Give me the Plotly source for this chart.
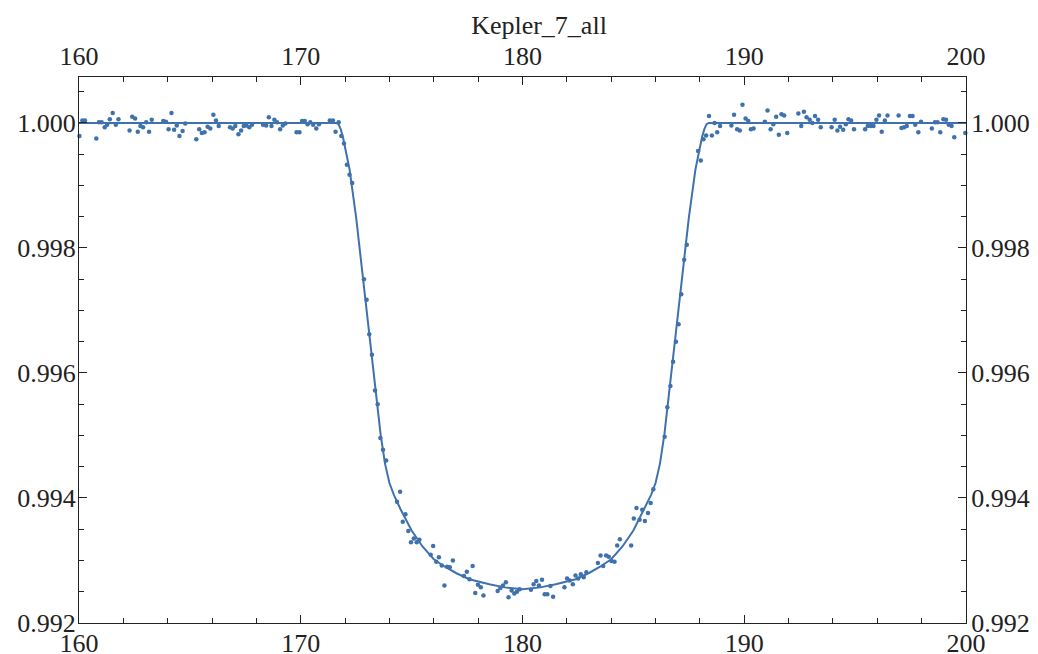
import plotly.graph_objects as go

# Observed light curve (time, relative flux)
obs_time = [
    159.90, 160.02, 160.15, 160.27,
    160.78, 160.90, 161.02, 161.16, 161.27, 161.39, 161.52, 161.66, 161.78,
    162.28, 162.40, 162.53, 162.65, 162.77, 162.89, 163.03, 163.16, 163.28,
    163.80, 163.92, 164.04, 164.17, 164.29, 164.41, 164.53, 164.67, 164.79,
    165.29, 165.42, 165.54, 165.66, 165.80, 165.92, 166.06, 166.18, 166.30,
    166.81, 166.93, 167.05, 167.19, 167.31, 167.43, 167.55, 167.68, 167.80,
    168.30, 168.44, 168.56, 168.68, 168.81, 168.93, 169.07, 169.19, 169.31,
    169.81, 169.94, 170.06, 170.18, 170.31, 170.43, 170.56, 170.70, 170.82,
    171.31, 171.45, 171.57, 171.71, 171.83, 171.95, 172.08, 172.20, 172.32,
    172.85, 172.97, 173.09, 173.21, 173.35, 173.47, 173.59, 173.71, 173.85,
    174.34, 174.48, 174.60, 174.72, 174.85, 174.97, 175.10, 175.23, 175.35,
    175.86, 175.97, 176.11, 176.23, 176.36, 176.48, 176.60, 176.72, 176.86,
    177.36, 177.49, 177.61, 177.75, 177.87, 177.99, 178.12, 178.24,
    178.88, 179.00, 179.12, 179.25, 179.37, 179.51, 179.63, 179.75, 179.87,
    180.38, 180.50, 180.62, 180.74, 180.88, 181.00, 181.12, 181.26, 181.38,
    181.89, 182.01, 182.13, 182.27, 182.39, 182.51, 182.63, 182.76, 182.88,
    183.40, 183.52, 183.64, 183.77, 183.89, 184.01, 184.15, 184.27, 184.39,
    184.90, 185.02, 185.14, 185.28, 185.40, 185.52, 185.66, 185.78, 185.90,
    186.41, 186.53, 186.67, 186.79, 186.92, 187.04, 187.16, 187.29, 187.41,
    187.92, 188.04, 188.16, 188.28, 188.41, 188.54, 188.66, 188.78, 188.91,
    189.42, 189.54, 189.68, 189.80, 189.92, 190.06, 190.18, 190.30, 190.42,
    190.93, 191.05, 191.19, 191.31, 191.44, 191.56, 191.68, 191.80, 191.94,
    192.44, 192.57, 192.69, 192.81, 192.95, 193.07, 193.19, 193.33, 193.45,
    193.94, 194.08, 194.20, 194.32, 194.46, 194.58, 194.70, 194.82, 194.95,
    195.45, 195.57, 195.71, 195.83, 195.96, 196.08, 196.20, 196.34, 196.46,
    196.96, 197.09, 197.21, 197.33, 197.47, 197.59, 197.71, 197.85, 197.97,
    198.46, 198.60, 198.72, 198.84, 198.98, 199.10, 199.22, 199.35, 199.47,
    199.97, 200.11,
]
obs_flux = [
    0.99983, 0.99979, 1.00004, 1.00004,
    0.99975, 1.00001, 1.00001, 0.99993, 0.99997, 1.00006, 1.00016, 0.99997, 1.00006,
    0.99988, 1.00010, 1.00007, 0.99986, 0.99995, 0.99993, 1.00001, 0.99986, 1.00005,
    1.00003, 1.00002, 0.99990, 1.00016, 0.99989, 0.99996, 0.99979, 0.99987, 0.99999,
    0.99974, 0.99990, 0.99984, 0.99985, 0.99994, 0.99991, 1.00013, 1.00004, 0.99995,
    0.99993, 0.99991, 0.99995, 0.99982, 0.99988, 0.99995, 0.99996, 0.99993, 0.99997,
    0.99997, 0.99996, 1.00009, 0.99995, 1.00005, 1.00001, 0.99990, 0.99996, 0.99999,
    0.99985, 0.99985, 1.00003, 1.00003, 0.99998, 1.00001, 0.99997, 0.99991, 0.99998,
    1.00004, 1.00004, 0.99986, 1.00001, 0.99979, 0.99967, 0.99933, 0.99917, 0.99904,
    0.99750, 0.99717, 0.99662, 0.99629, 0.99572, 0.99550, 0.99496, 0.99477, 0.99460,
    0.99394, 0.99410, 0.99362, 0.99374, 0.99347, 0.99329, 0.99335, 0.99329, 0.99333,
    0.99309, 0.99323, 0.99298, 0.99305, 0.99292, 0.99260, 0.99290, 0.99289, 0.99300,
    0.99275, 0.99282, 0.99270, 0.99291, 0.99248, 0.99261, 0.99257, 0.99244,
    0.99251, 0.99256, 0.99260, 0.99265, 0.99241, 0.99252, 0.99247, 0.99250, 0.99254,
    0.99253, 0.99262, 0.99267, 0.99260, 0.99269, 0.99246, 0.99246, 0.99259, 0.99242,
    0.99257, 0.99271, 0.99268, 0.99262, 0.99276, 0.99271, 0.99278, 0.99273, 0.99281,
    0.99296, 0.99308, 0.99291, 0.99308, 0.99306, 0.99299, 0.99298, 0.99324, 0.99334,
    0.99324, 0.99367, 0.99384, 0.99365, 0.99381, 0.99363, 0.99376, 0.99392, 0.99414,
    0.99498, 0.99545, 0.99579, 0.99618, 0.99650, 0.99678, 0.99726, 0.99781, 0.99805,
    0.99955, 0.99940, 0.99974, 0.99980, 1.00011, 0.99980, 1.00000, 0.99985, 0.99995,
    0.99996, 1.00013, 0.99990, 0.99988, 1.00029, 1.00007, 1.00003, 0.99990, 0.99991,
    1.00002, 1.00020, 0.99990, 0.99998, 1.00010, 0.99981, 1.00014, 1.00012, 0.99984,
    1.00015, 0.99995, 1.00018, 1.00009, 1.00005, 1.00000, 1.00011, 1.00005, 0.99993,
    0.99993, 1.00005, 0.99988, 0.99994, 0.99989, 0.99998, 1.00006, 1.00004, 0.99990,
    0.99990, 0.99995, 0.99995, 0.99995, 1.00005, 1.00012, 0.99986, 1.00004, 1.00012,
    1.00012, 0.99992, 0.99993, 0.99995, 1.00011, 1.00011, 0.99997, 0.99985, 1.00002,
    0.99991, 1.00001, 1.00001, 0.99985, 1.00006, 1.00005, 0.99997, 0.99995, 0.99977,
    0.99984, 1.00003,
]

# Fitted transit model curve
model_time = [
    159.80, 171.60, 171.70, 171.80, 171.90, 172.00, 172.20, 172.50, 172.80, 173.00,
    173.30, 173.60, 173.80, 174.00, 174.20, 174.50, 175.00, 175.50, 176.00, 176.50,
    177.00, 177.60, 178.50, 179.20, 180.00, 180.80, 181.50, 182.40, 183.00, 183.50,
    184.00, 184.50, 185.00, 185.50, 185.80, 186.00, 186.20, 186.40, 186.70, 187.00,
    187.20, 187.50, 187.80, 188.00, 188.10, 188.20, 188.30, 188.40, 200.20,
]
model_flux = [
    1.00000, 1.00000, 0.99998, 0.99990, 0.99978, 0.99962, 0.99926, 0.99848, 0.99755, 0.99692,
    0.99595, 0.99502, 0.99455, 0.99424, 0.99405, 0.99382, 0.99348, 0.99322, 0.99302, 0.99290,
    0.99280, 0.99270, 0.99262, 0.99257, 0.99254, 0.99257, 0.99262, 0.99270, 0.99280, 0.99290,
    0.99302, 0.99322, 0.99348, 0.99382, 0.99405, 0.99424, 0.99455, 0.99502, 0.99595, 0.99692,
    0.99755, 0.99848, 0.99926, 0.99962, 0.99978, 0.99990, 0.99998, 1.00000, 1.00000,
]

x_ticks = [160, 170, 180, 190, 200]
y_ticks = [0.992, 0.994, 0.996, 0.998, 1.000]
x_range = [160, 200]
y_range = [0.992, 1.000735]
title_text = "Kepler_7_all"

COLOR = "#3f72ad"
AXC = "#222222"
FONT = "Liberation Serif"

fig = go.Figure()
fig.add_trace(go.Scatter(x=model_time, y=model_flux, mode="lines", xaxis="x2", yaxis="y2",
                         line=dict(color=COLOR, width=2), showlegend=False,
                         hoverinfo="skip"))
fig.add_trace(go.Scatter(x=obs_time, y=obs_flux, mode="markers",
                         marker=dict(color=COLOR, size=4.5, line=dict(width=0)),
                         showlegend=False, cliponaxis=False))

common_x = dict(range=x_range, tickvals=x_ticks, ticktext=[str(v) for v in x_ticks],
                ticks="inside", ticklen=8, tickwidth=1.2, tickcolor=AXC,
                minor=dict(dtick=2, ticks="inside", ticklen=5, tickwidth=1.2, tickcolor=AXC),
                showline=True, linecolor=AXC, linewidth=1.3, showgrid=False, zeroline=False,
                automargin=False,
                tickfont=dict(family=FONT, size=26, color=AXC))
common_y = dict(range=y_range, tickvals=y_ticks, ticktext=[f"{v:.3f}" for v in y_ticks],
                ticks="inside", ticklen=8, tickwidth=1.2, tickcolor=AXC,
                minor=dict(dtick=0.0005, tick0=0.992, ticks="inside", ticklen=5, tickwidth=1.2, tickcolor=AXC),
                showline=True, linecolor=AXC, linewidth=1.3, showgrid=False, zeroline=False,
                automargin=False,
                tickfont=dict(family=FONT, size=26, color=AXC))

# the page adds an 8px body margin, so the figure is laid out 8px up/left
fig.update_layout(
    width=1038, height=654,
    margin=dict(l=71, r=80, t=69, b=39, autoexpand=False),
    paper_bgcolor="white", plot_bgcolor="white",
    title=dict(text=title_text, x=531 / 1038, xanchor="center", y=1 - 17 / 654, yanchor="middle",
               font=dict(family=FONT, size=26, color=AXC)),
    xaxis=dict(**common_x, side="bottom", anchor="y", ticklabelstandoff=-3),
    xaxis2=dict(**common_x, side="top", overlaying="x", anchor="y2", matches="x", ticklabelstandoff=0),
    yaxis=dict(**common_y, side="left", anchor="x", ticklabelstandoff=-3),
    yaxis2=dict(**common_y, side="right", overlaying="y", anchor="x2", matches="y", ticklabelstandoff=-1),
)

fig.write_html("out.html")
